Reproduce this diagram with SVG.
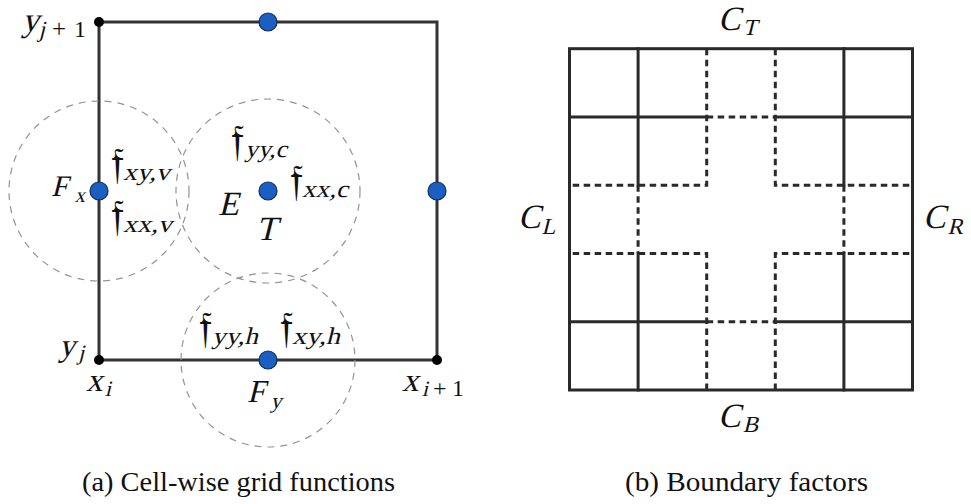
<svg xmlns="http://www.w3.org/2000/svg" width="971" height="504" viewBox="0 0 971 504">
<style>
.edge{stroke:#333;stroke-width:3;fill:none;stroke-linecap:square}
.ring{stroke:#939393;stroke-width:1.2;fill:none;stroke-dasharray:7 6}
.blue{fill:#1c5fc2;stroke:#0e2d5e;stroke-width:1.2}
.blk{fill:#000}
.gs{stroke:#2a2a2a;stroke-width:3;fill:none;stroke-linecap:square}
.gd{stroke:#2a2a2a;stroke-width:3;fill:none;stroke-dasharray:6.5 4.5}
text{font-family:'Times New Roman',serif;fill:#111}
.fk{font-family:'DejaVu Sans',sans-serif;font-size:44px}
</style>
<rect width="971" height="504" fill="#fff"/>
<g id="panel-a">
  <g id="connectors">
    <path class="edge" d="M99 22H437V360H99Z"/>
  </g>
  <g id="support-rings">
    <circle class="ring" cx="99" cy="191" r="90"/>
    <circle class="ring" cx="268" cy="191" r="92"/>
    <circle class="ring" cx="268" cy="360" r="87"/>
  </g>
  <g id="node-corner-tl"><circle class="blk" cx="99" cy="22" r="5"/></g>
  <g id="node-corner-bl"><circle class="blk" cx="99" cy="360" r="5"/></g>
  <g id="node-corner-br"><circle class="blk" cx="437" cy="360" r="5"/></g>
  <g id="node-top"><circle class="blue" cx="268" cy="22" r="9"/></g>
  <g id="node-left"><circle class="blue" cx="99" cy="191" r="9"/></g>
  <g id="node-right"><circle class="blue" cx="437" cy="191" r="9"/></g>
  <g id="node-center"><circle class="blue" cx="268" cy="191" r="9"/></g>
  <g id="node-bottom"><circle class="blue" cx="268" cy="360" r="9"/></g>
  <g id="labels-a">
    <g id="lbl-yj1"><text transform="translate(22 31) skewX(-14)"><tspan x="0" y="0" font-size="34">y</tspan><tspan x="18" y="6" font-size="23">j</tspan></text><text x="52" y="37" font-size="25">+<tspan x="74" font-size="24">1</tspan></text></g>
    <g id="lbl-Fx"><text transform="translate(51 196) skewX(-14)"><tspan x="0" y="0" font-size="30">F</tspan><tspan x="25" y="6" font-size="21">x</tspan></text></g>
    <g id="lbl-fxyv"><text class="fk" x="111" y="178">𝔣</text><text transform="translate(123 180) skewX(-14)" font-size="24" textLength="47" lengthAdjust="spacingAndGlyphs">xy,v</text></g>
    <g id="lbl-fxxv"><text class="fk" x="111" y="230">𝔣</text><text transform="translate(123 232) skewX(-14)" font-size="24" textLength="49" lengthAdjust="spacingAndGlyphs">xx,v</text></g>
    <g id="lbl-fyyc"><text class="fk" x="231" y="155">𝔣</text><text transform="translate(245 157) skewX(-14)" font-size="24" textLength="42" lengthAdjust="spacingAndGlyphs">yy,c</text></g>
    <g id="lbl-fxxc"><text class="fk" x="290" y="195">𝔣</text><text transform="translate(302 197) skewX(-14)" font-size="24" textLength="46" lengthAdjust="spacingAndGlyphs">xx,c</text></g>
    <g id="lbl-E"><text transform="translate(218 215) skewX(-14)" font-size="34">E</text></g>
    <g id="lbl-T"><text transform="translate(256 240) skewX(-14)" font-size="34">T</text></g>
    <g id="lbl-yj"><text transform="translate(59 356) skewX(-14)"><tspan x="0" y="0" font-size="32">y</tspan><tspan x="20" y="4" font-size="22">j</tspan></text></g>
    <g id="lbl-xi"><text transform="translate(86 391) skewX(-14)"><tspan x="0" y="0" font-size="33">x</tspan><tspan x="20" y="5" font-size="22">i</tspan></text></g>
    <g id="lbl-xi1"><text transform="translate(402 391) skewX(-14)"><tspan x="0" y="0" font-size="33">x</tspan><tspan x="21" y="5" font-size="22">i</tspan></text><text x="433" y="396" font-size="24">+<tspan x="452">1</tspan></text></g>
    <g id="lbl-Fy"><text transform="translate(247 402) skewX(-14)"><tspan x="0" y="0" font-size="32">F</tspan><tspan x="25" y="6" font-size="22">y</tspan></text></g>
    <g id="lbl-fyyh"><text class="fk" x="199" y="342">𝔣</text><text transform="translate(212 344) skewX(-14)" font-size="24" textLength="46" lengthAdjust="spacingAndGlyphs">yy,h</text></g>
    <g id="lbl-fxyh"><text class="fk" x="280" y="342">𝔣</text><text transform="translate(292 344) skewX(-14)" font-size="24" textLength="48" lengthAdjust="spacingAndGlyphs">xy,h</text></g>
  </g>
  <text font-size="28" x="82" y="491" textLength="313" lengthAdjust="spacingAndGlyphs">(a) Cell-wise grid functions</text>
</g>
<g id="panel-b">
  <g id="grid-solid">
    <rect class="gs" x="569.5" y="48.7" width="343" height="341.3"/>
    <path class="gs" d="M638.1 48.7V185.2M638.1 253.5V390M843.9 48.7V185.2M843.9 253.5V390M569.5 117H706.7M775.3 117H912.5M569.5 321.7H706.7M775.3 321.7H912.5"/>
  </g>
  <g id="grid-dashed">
    <path class="gd" d="M706.7 48.7V185.2H569.5M775.3 48.7V185.2H912.5M706.7 390V253.5H569.5M775.3 390V253.5H912.5M706.7 117H775.3M706.7 321.7H775.3M638.1 185.2V253.5M843.9 185.2V253.5"/>
  </g>
  <g id="labels-b">
    <g id="lbl-CT"><text transform="translate(718 30) skewX(-14)"><tspan x="0" y="0" font-size="34">C</tspan><tspan x="26" y="5" font-size="23">T</tspan></text></g>
    <g id="lbl-CL"><text transform="translate(518 228) skewX(-14)"><tspan x="0" y="0" font-size="34">C</tspan><tspan x="25" y="6" font-size="23">L</tspan></text></g>
    <g id="lbl-CR"><text transform="translate(923 228) skewX(-14)"><tspan x="0" y="0" font-size="34">C</tspan><tspan x="26" y="6" font-size="23">R</tspan></text></g>
    <g id="lbl-CB"><text transform="translate(718 427) skewX(-14)"><tspan x="0" y="0" font-size="34">C</tspan><tspan x="26" y="5" font-size="23">B</tspan></text></g>
  </g>
  <text font-size="28" x="625" y="491" textLength="243" lengthAdjust="spacingAndGlyphs">(b) Boundary factors</text>
</g>
</svg>
